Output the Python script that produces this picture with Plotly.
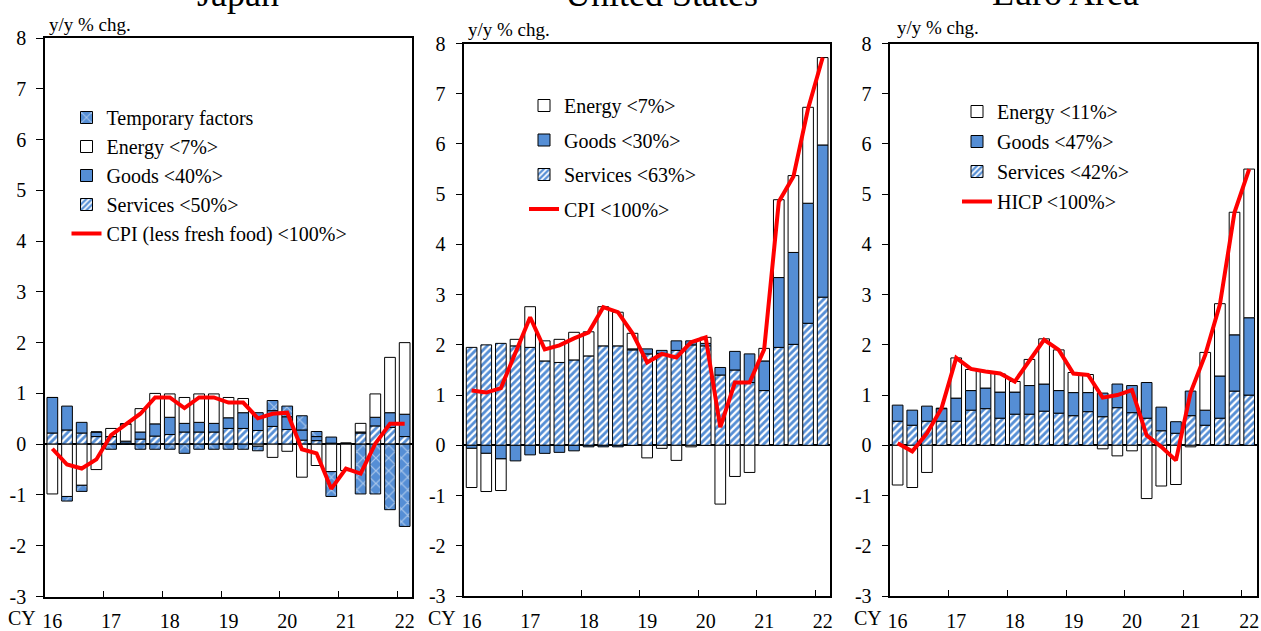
import plotly.graph_objects as go

# ---------------- data ----------------
quarters = list(range(25))  # 2016Q1 .. 2022Q1
year_pos = [0, 4, 8, 12, 16, 20, 24]
year_labels = ['16', '17', '18', '19', '20', '21', '22']
year_bounds = [3.5, 7.5, 11.5, 15.5, 19.5, 23.5]
y_ticks = [-3, -2, -1, 0, 1, 2, 3, 4, 5, 6, 7, 8]
y_tick_labels = ['-3', '-2', '-1', '0', '1', '2', '3', '4', '5', '6', '7', '8']

jp_services = [0.22, 0.28, 0.22, 0.15, 0.15, 0.02, 0.10, 0.16, 0.19, 0.24, 0.24, 0.24, 0.31,
               0.31, 0.27, 0.35, 0.29, 0.08, 0.07, 0.02, 0.00, 0.22, 0.36, 0.33, 0.15]
jp_goods = [0.70, 0.47, 0.21, 0.09, 0.00, 0.04, 0.14, 0.24, 0.34, 0.17, 0.19, 0.17, 0.21,
            0.31, 0.35, 0.31, 0.25, 0.20, 0.08, 0.12, 0.02, 0.02, 0.17, 0.29, 0.44]
jp_energy = [-0.98, -1.03, -0.81, -0.50, 0.16, 0.34, 0.46, 0.60, 0.46, 0.51, 0.56, 0.58, 0.40,
             0.28, -0.04, -0.26, -0.14, -0.65, -0.42, -0.54, -0.52, 0.17, 0.46, 1.09, 1.41]
jp_temp = [0.00, -0.09, -0.12, 0.00, -0.10, 0.00, -0.10, -0.10, -0.10, -0.18, -0.10, -0.10, -0.10,
           -0.10, -0.09, 0.20, 0.21, 0.28, 0.10, -0.49, 0.00, -0.98, -0.98, -1.29, -1.62]
jp_cpi = [-0.09, -0.40, -0.48, -0.30, 0.18, 0.40, 0.60, 0.92, 0.92, 0.71, 0.92, 0.92, 0.82,
          0.82, 0.51, 0.60, 0.62, -0.10, -0.18, -0.88, -0.48, -0.58, 0.01, 0.40, 0.40]

us_services = [1.95, 2.00, 2.03, 1.98, 1.95, 1.68, 1.65, 1.70, 1.78, 1.98, 1.98, 1.90, 1.82,
               1.83, 1.89, 2.00, 1.98, 1.40, 1.50, 1.25, 1.09, 1.95, 2.01, 2.43, 2.95]
us_goods = [-0.06, -0.16, -0.27, -0.31, -0.19, -0.16, -0.14, -0.11, -0.03, -0.03, -0.03, 0.02, 0.10,
            0.06, 0.19, 0.08, 0.05, 0.15, 0.37, 0.57, 0.59, 1.39, 1.83, 2.39, 3.03]
us_energy = [-0.78, -0.76, -0.63, 0.13, 0.81, 0.40, 0.46, 0.55, 0.48, 0.78, 0.67, 0.31, -0.25,
             -0.06, -0.30, -0.03, 0.12, -1.17, -0.62, -0.54, 0.25, 1.55, 1.53, 1.91, 1.74]
us_cpi = [1.09, 1.05, 1.14, 1.83, 2.55, 1.91, 1.99, 2.13, 2.25, 2.75, 2.65, 2.23, 1.65,
          1.82, 1.75, 2.05, 2.15, 0.36, 1.25, 1.25, 1.91, 4.85, 5.35, 6.70, 7.72]

ea_services = [0.48, 0.40, 0.48, 0.48, 0.48, 0.70, 0.73, 0.54, 0.62, 0.62, 0.68, 0.64, 0.59,
               0.67, 0.57, 0.75, 0.65, 0.54, 0.29, 0.24, 0.59, 0.40, 0.54, 1.08, 1.00]
ea_goods = [0.32, 0.30, 0.30, 0.25, 0.46, 0.39, 0.41, 0.52, 0.44, 0.57, 0.54, 0.45, 0.46,
            0.38, 0.47, 0.47, 0.54, 0.71, 0.47, 0.23, 0.49, 0.30, 0.84, 1.12, 1.54]
ea_energy = [-0.79, -0.84, -0.54, 0.01, 0.80, 0.42, 0.33, 0.36, 0.21, 0.52, 0.90, 0.81, 0.40,
             0.36, -0.07, -0.21, -0.11, -1.06, -0.81, -0.78, -0.03, 1.15, 1.44, 2.44, 2.96]
ea_hicp = [0.04, -0.12, 0.24, 0.74, 1.74, 1.52, 1.47, 1.43, 1.27, 1.70, 2.10, 1.90, 1.43,
           1.40, 0.95, 1.00, 1.10, 0.20, -0.03, -0.30, 1.05, 1.80, 2.80, 4.64, 5.50]

titles = ['Japan', 'United States', 'Euro Area']

# ---------------- style ----------------
BLUE = '#558ED5'
RED = '#FF0000'
FONT = 'Liberation Serif, Times New Roman, serif'
W, H = 1261, 631

fig = go.Figure()

def px_x(p):
    return p / W

def px_y(p):
    return 1 - p / H

panels = [
    dict(x0=45, x1=412, top=38, bot=596.5),
    dict(x0=464.3, x1=830, top=43.5, bot=596),
    dict(x0=890.3, x1=1256.5, top=43.5, bot=596),
]

def bar(x, y, name, legend, rank, xa, ya, pattern=None, color=BLUE):
    m = dict(color=color, line=dict(color='black', width=1))
    if pattern is not None:
        m['pattern'] = pattern
    return go.Bar(x=x, y=y, name=name, legend=legend, legendrank=rank, legendgroup=legend + name,
                  xaxis=xa, yaxis=ya, marker=m, width=0.73)

svc_pattern = dict(shape='/', fgcolor=BLUE, bgcolor='white', size=5, solidity=0.55, fillmode='replace')
tmp_pattern = dict(shape='x', fgcolor='white', bgcolor=BLUE, size=9, solidity=0.25, fillmode='overlay')

data = [
    dict(services=jp_services, goods=jp_goods, energy=jp_energy, temp=jp_temp, line=jp_cpi,
         names=['Services <50%>', 'Goods <40%>', 'Energy <7%>', 'Temporary factors',
                'CPI (less fresh food) <100%>']),
    dict(services=us_services, goods=us_goods, energy=us_energy, temp=None, line=us_cpi,
         names=['Services <63%>', 'Goods <30%>', 'Energy <7%>', None, 'CPI <100%>']),
    dict(services=ea_services, goods=ea_goods, energy=ea_energy, temp=None, line=ea_hicp,
         names=['Services <42%>', 'Goods <47%>', 'Energy <11%>', None, 'HICP <100%>']),
]

for i, (d, p) in enumerate(zip(data, panels)):
    n = '' if i == 0 else str(i + 1)
    xa, ya = 'x' + n, 'y' + n
    lg = 'legend' + n
    fig.add_trace(bar(quarters, d['services'], d['names'][0], lg, 4, xa, ya, pattern=svc_pattern))
    fig.add_trace(bar(quarters, d['goods'], d['names'][1], lg, 3, xa, ya))
    fig.add_trace(bar(quarters, d['energy'], d['names'][2], lg, 2, xa, ya, color='white'))
    if d['temp'] is not None:
        fig.add_trace(bar(quarters, d['temp'], d['names'][3], lg, 1, xa, ya, pattern=tmp_pattern))
    fig.add_trace(go.Scatter(x=quarters, y=d['line'], name=d['names'][4], mode='lines',
                             line=dict(color=RED, width=4), legend=lg, legendrank=5,
                             legendgroup=lg + 'line', xaxis=xa, yaxis=ya))

    axis_common = dict(showline=True, linecolor='black', linewidth=1.5, mirror=True,
                       showgrid=False, automargin=False,
                       tickfont=dict(family=FONT, size=20, color='black'))
    fig.layout['xaxis' + n] = dict(
        axis_common, domain=[px_x(p['x0']), px_x(p['x1'])], anchor=ya,
        range=[-0.5, 24.5], tickmode='array', tickvals=year_pos, ticktext=year_labels,
        ticks='', zeroline=False, ticklabelstandoff=6,
        minor=dict(tickmode='array', tickvals=year_bounds, ticks='inside', ticklen=6,
                   tickcolor='black', tickwidth=1.2))
    fig.layout['yaxis' + n] = dict(
        axis_common, domain=[px_y(p['bot']), px_y(p['top'])], anchor=xa,
        range=[-3, 8], tickmode='array', tickvals=y_ticks, ticktext=y_tick_labels,
        ticks='outside', ticklen=7, tickwidth=1.2, tickcolor='black', ticklabelstandoff=6,
        zeroline=True, zerolinecolor='black', zerolinewidth=1.5)

legend_cfg = [
    dict(x=66.5, top=98, gap=0),
    dict(x=524, top=86, gap=5.5),
    dict(x=957, top=92, gap=1),
]
for i, c in enumerate(legend_cfg):
    n = '' if i == 0 else str(i + 1)
    fig.layout['legend' + n] = dict(
        x=px_x(c['x']), y=px_y(c['top']), xanchor='left', yanchor='top',
        bgcolor='rgba(0,0,0,0)', borderwidth=0, traceorder='grouped', tracegroupgap=c['gap'],
        font=dict(family=FONT, size=20, color='black'))

annos = []
title_x = [238, 661, 1065]
title_bottom = [16, 16, 15]
ylab_x = [47, 466, 895]
ylab_y = [25, 29, 27]
cy_x = [22, 442, 868]
for i in range(3):
    annos.append(dict(text=titles[i], x=px_x(title_x[i]), y=px_y(title_bottom[i]), xref='paper',
                      yref='paper', xanchor='center', yanchor='bottom', showarrow=False,
                      font=dict(family=FONT, size=36, color='black')))
    annos.append(dict(text='y/y % chg.', x=px_x(ylab_x[i]), y=px_y(ylab_y[i]), xref='paper',
                      yref='paper', xanchor='left', yanchor='middle', showarrow=False,
                      font=dict(family=FONT, size=19, color='black')))
    annos.append(dict(text='CY', x=px_x(cy_x[i]), y=px_y(618), xref='paper', yref='paper',
                      xanchor='center', yanchor='middle', showarrow=False,
                      font=dict(family=FONT, size=20, color='black')))

fig.update_layout(
    width=W, height=H, margin=dict(l=0, r=0, t=0, b=0, autoexpand=False),
    paper_bgcolor='white', plot_bgcolor='white',
    barmode='relative', bargap=0.27, showlegend=True,
    annotations=annos,
    font=dict(family=FONT, color='black'),
)

fig.write_html('out.html', config={'displayModeBar': False},
               post_script="document.body.style.margin='0';document.body.style.overflow='hidden';")
